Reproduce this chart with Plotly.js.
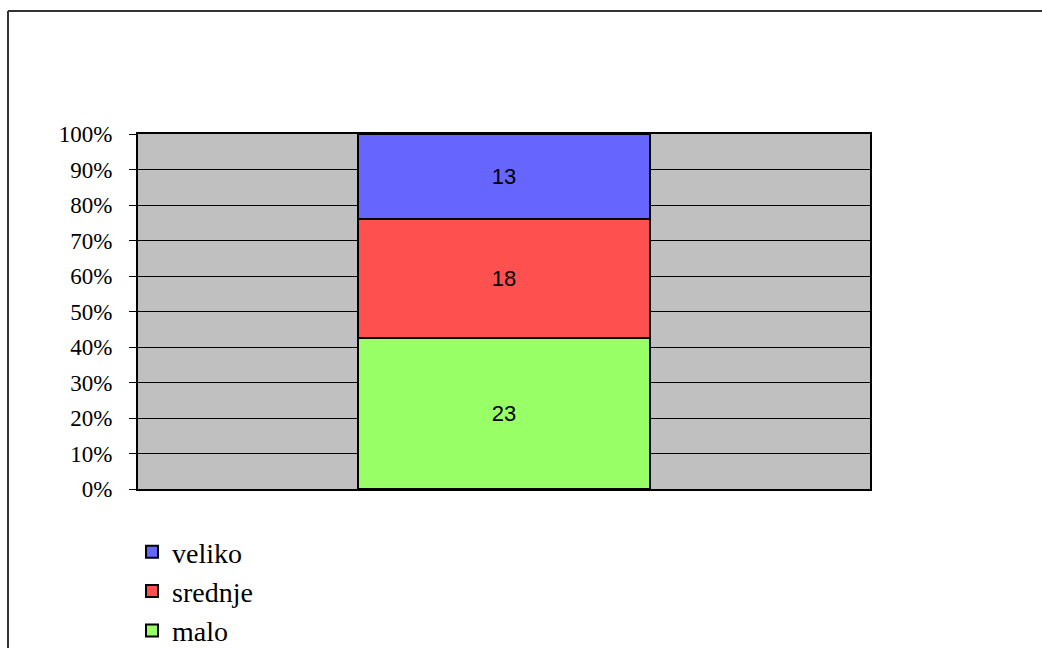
<!DOCTYPE html>
<html>
<head>
<meta charset="utf-8">
<script src="https://cdn.plot.ly/plotly-3.0.1.min.js"></script>
<style>
  html, body { margin: 0; padding: 0; background: #ffffff; overflow: hidden; }
  #chart { width: 1042px; height: 648px; }
</style>
</head>
<body>
<div id="chart"></div>
<script>
// ---- data ----
const categories = ["1"];
const seriesNames = ["malo", "srednje", "veliko"];
const maloValues = [23];
const srednjeValues = [18];
const velikoValues = [13];
const seriesColors = ["#99ff66", "#ff5050", "#6666ff"];
const tickValues = [0, 10, 20, 30, 40, 50, 60, 70, 80, 90, 100];

const seriesValues = [maloValues, srednjeValues, velikoValues];

const SERIF = "Liberation Serif";
const SANS = "Liberation Sans";

const traces = seriesNames.map((name, i) => ({
  type: "bar",
  name: name,
  x: categories,
  y: seriesValues[i],
  text: seriesValues[i].map(v => String(v)),
  textposition: "inside",
  insidetextanchor: "middle",
  textangle: 0,
  textfont: { family: SANS, size: 22, color: "#000000" },
  marker: { color: seriesColors[i], line: { color: "#000000", width: 2 } },
  hoverinfo: "skip"
}));

// pixel helpers for the plot area
const L = 138, T = 134, W = 732, H = 355;
const px = x => (x - L) / W;
const py = y => 1 - (y - T) / H;

const layout = {
  width: 1042,
  height: 648,
  font: { family: SERIF, size: 23, color: "#000000" },
  margin: { l: L, t: T, r: 1042 - L - W, b: 648 - T - H, pad: 0, autoexpand: false },
  paper_bgcolor: "#ffffff",
  plot_bgcolor: "#c0c0c0",
  barmode: "stack",
  barnorm: "percent",
  bargap: 0.6,
  showlegend: true,
  legend: {
    x: px(132), y: py(527), xanchor: "left", yanchor: "top",
    bgcolor: "rgba(0,0,0,0)", borderwidth: 0,
    font: { family: SERIF, size: 28, color: "#000000" },
    traceorder: "reversed"
  },
  xaxis: {
    type: "category",
    showticklabels: false,
    ticks: "",
    showgrid: false,
    zeroline: false,
    showline: true, mirror: true, linecolor: "#000000", linewidth: 2,
    fixedrange: true
  },
  yaxis: {
    range: [0, 100],
    tickvals: tickValues,
    ticktext: tickValues.map(v => v + "%"),
    ticks: "outside", ticklen: 7, tickwidth: 1, tickcolor: "#000000",
    ticklabelstandoff: 12,
    tickfont: { family: SERIF, size: 23, color: "#000000" },
    showgrid: true, gridcolor: "#000000", gridwidth: 1,
    zeroline: false,
    showline: true, mirror: true, linecolor: "#000000", linewidth: 2,
    automargin: false,
    fixedrange: true
  },
  shapes: [
    { type: "line", xref: "paper", yref: "paper", x0: px(8), x1: px(8), y0: py(11), y1: py(660),
      line: { color: "#333333", width: 2 } },
    { type: "line", xref: "paper", yref: "paper", x0: px(8), x1: px(1050), y0: py(11), y1: py(11),
      line: { color: "#333333", width: 2 } }
  ]
};

Plotly.newPlot("chart", traces, layout, { displayModeBar: false, staticPlot: true });
</script>
</body>
</html>
